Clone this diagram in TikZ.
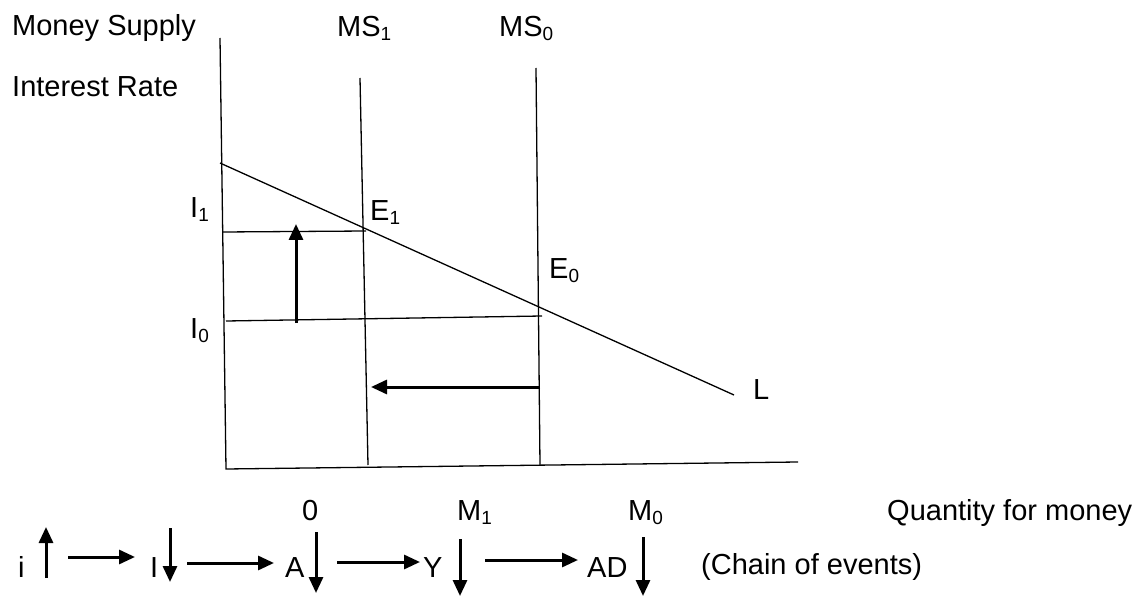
\documentclass[tikz,border=0pt]{standalone}
\usepackage{fontspec}
\setmainfont{Liberation Sans}
\usetikzlibrary{arrows.meta}
\newcommand\sbs[1]{\raisebox{-4pt}{\fontsize{19}{19}\selectfont #1}}
\tikzset{
  lbl/.style={font=\fontsize{29}{34}\selectfont, inner sep=0pt, anchor=base west},
  thin/.style={line width=1.3pt},
  bigarrow/.style={line width=3pt, -{Triangle[length=16pt,width=14pt]}},
}
\begin{document}
\begin{tikzpicture}[x=1pt,y=-1pt]
\useasboundingbox (0,0) rectangle (1141,596);
% labels
\node[lbl] (ms) at (12,36) {Money Supply};
\node[lbl] (ir) at (12,97) {Interest Rate};
\node[lbl] (ms1) at (337,37) {MS\sbs{1}};
\node[lbl] (ms0) at (499,37) {MS\sbs{0}};
\node[lbl] (i1) at (190,218) {I\sbs{1}};
\node[lbl] (i0) at (190,338) {I\sbs{0}};
\node[lbl] (e1) at (370,221) {E\sbs{1}};
\node[lbl] (e0) at (549,279) {E\sbs{0}};
\node[lbl] (l) at (753,399) {L};
\node[lbl] (zero) at (302,520) {0};
\node[lbl] (m1) at (457,520) {M\sbs{1}};
\node[lbl] (m0) at (628,520) {M\sbs{0}};
\node[lbl] (qm) at (887,520) {Quantity for money};
% axes and curves
\coordinate (yt) at (220,38);
\coordinate (o) at (226,469);
\coordinate (xr) at (798,462);
\coordinate (ms1t) at (360,78);
\coordinate (ms1b) at (368,465);
\coordinate (ms0t) at (536,68);
\coordinate (ms0b) at (540,465);
\coordinate (ls) at (220,163);
\coordinate (le) at (734,395);
\coordinate (h1a) at (223,232);
\coordinate (h1b) at (366,231);
\coordinate (h0a) at (226,321);
\coordinate (h0b) at (542,316);
\draw[thin] (yt) -- (o) -- (xr);
\draw[thin] (ms1t) -- (ms1b);
\draw[thin] (ms0t) -- (ms0b);
\draw[thin] (ls) -- (le);
\draw[thin] (h1a) -- (h1b);
\draw[thin] (h0a) -- (h0b);
\coordinate (ua) at (296,323);
\coordinate (ub) at (296,224);
\draw[bigarrow] (ua) -- (ub);
\coordinate (la) at (540,387);
\coordinate (lb) at (371,387);
\draw[bigarrow] (la) -- (lb);
% chain of events
\node[lbl] (ci) at (18,577) {i};
\node[lbl] (cI) at (150,577) {I};
\node[lbl] (cA) at (285,577) {A};
\node[lbl] (cY) at (423,577) {Y};
\node[lbl] (cAD) at (587,577) {AD};
\node[lbl] (chain) at (701,574) {(Chain of events)};
\coordinate (iu1) at (46,578); \coordinate (iu2) at (46,527);
\draw[bigarrow] (iu1) -- (iu2);
\coordinate (a1s) at (68,557); \coordinate (a1e) at (135,557);
\draw[bigarrow] (a1s) -- (a1e);
\coordinate (Id1) at (170,528); \coordinate (Id2) at (170,582);
\draw[bigarrow] (Id1) -- (Id2);
\coordinate (a2s) at (187,563); \coordinate (a2e) at (274,563);
\draw[bigarrow] (a2s) -- (a2e);
\coordinate (Ad1) at (316,532); \coordinate (Ad2) at (316,593);
\draw[bigarrow] (Ad1) -- (Ad2);
\coordinate (a3s) at (337,562); \coordinate (a3e) at (420,562);
\draw[bigarrow] (a3s) -- (a3e);
\coordinate (Yd1) at (460,539); \coordinate (Yd2) at (460,596);
\draw[bigarrow] (Yd1) -- (Yd2);
\coordinate (a4s) at (485,560); \coordinate (a4e) at (578,560);
\draw[bigarrow] (a4s) -- (a4e);
\coordinate (ADd1) at (643,537); \coordinate (ADd2) at (643,596);
\draw[bigarrow] (ADd1) -- (ADd2);
\end{tikzpicture}
\end{document}
